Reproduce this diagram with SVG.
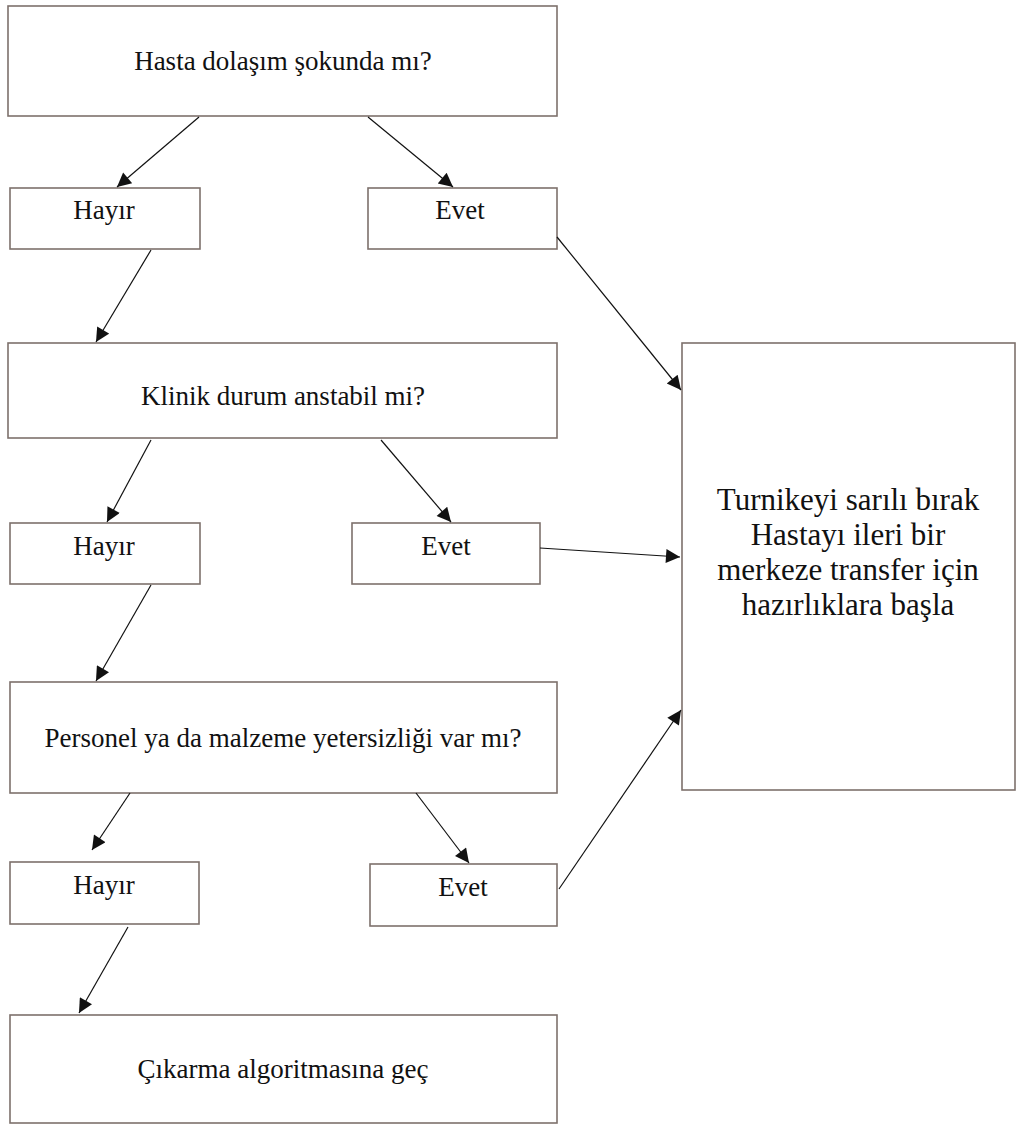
<svg xmlns="http://www.w3.org/2000/svg" width="1018" height="1125" viewBox="0 0 1018 1125">
<style>
.box{fill:#fff;stroke:#7d716c;stroke-width:1.6}
.t{font-family:"Liberation Serif","Times New Roman",serif;font-size:27px;fill:#111;text-anchor:middle}
.tb{font-family:"Liberation Serif","Times New Roman",serif;font-size:31px;fill:#111;text-anchor:middle}
.edge{stroke:#111;stroke-width:1.2;fill:none;marker-end:url(#ah)}
</style>
<defs>
<marker id="ah" viewBox="0 0 10 10" refX="10" refY="5" markerWidth="16" markerHeight="14" markerUnits="userSpaceOnUse" orient="auto">
<path d="M0,0 L10,5 L0,10 z" fill="#111"/>
</marker>
</defs>
<rect width="1018" height="1125" fill="#fff"/>
<g id="n-sok"><rect class="box" x="8" y="6" width="549" height="110"/><text class="t" x="283" y="70">Hasta dolaşım şokunda mı?</text></g>
<g id="n-hayir1"><rect class="box" x="10" y="188" width="190" height="61"/><text class="t" x="104" y="219">Hayır</text></g>
<g id="n-evet1"><rect class="box" x="368" y="188" width="189" height="61"/><text class="t" x="460" y="219">Evet</text></g>
<g id="n-klinik"><rect class="box" x="8" y="343" width="549" height="95"/><text class="t" x="283" y="405">Klinik durum anstabil mi?</text></g>
<g id="n-hayir2"><rect class="box" x="10" y="523" width="190" height="61"/><text class="t" x="104" y="555">Hayır</text></g>
<g id="n-evet2"><rect class="box" x="352" y="523" width="188" height="61"/><text class="t" x="446" y="555">Evet</text></g>
<g id="n-personel"><rect class="box" x="10" y="682" width="547" height="111"/><text class="t" x="283" y="747">Personel ya da malzeme yetersizliği var mı?</text></g>
<g id="n-hayir3"><rect class="box" x="10" y="862" width="189" height="62"/><text class="t" x="104" y="894">Hayır</text></g>
<g id="n-evet3"><rect class="box" x="370" y="864" width="187" height="62"/><text class="t" x="463" y="896">Evet</text></g>
<g id="n-cikarma"><rect class="box" x="10" y="1015" width="547" height="108"/><text class="t" x="283" y="1078">Çıkarma algoritmasına geç</text></g>
<g id="n-transfer"><rect class="box" x="682" y="343" width="333" height="447"/>
<text class="tb" x="848" y="510">Turnikeyi sarılı bırak</text>
<text class="tb" x="848" y="545">Hastayı ileri bir</text>
<text class="tb" x="848" y="580">merkeze transfer için</text>
<text class="tb" x="848" y="615">hazırlıklara başla</text>
</g>
<g id="connectors">
<line class="edge" x1="199" y1="117" x2="117" y2="187"/>
<line class="edge" x1="368" y1="117" x2="453" y2="187"/>
<line class="edge" x1="557" y1="237" x2="681" y2="390"/>
<line class="edge" x1="151" y1="250" x2="96" y2="342"/>
<line class="edge" x1="151" y1="440" x2="107" y2="522"/>
<line class="edge" x1="381" y1="440" x2="451" y2="522"/>
<line class="edge" x1="540" y1="548" x2="680" y2="557"/>
<line class="edge" x1="151" y1="585" x2="96" y2="681"/>
<line class="edge" x1="130" y1="793" x2="92" y2="850"/>
<line class="edge" x1="416" y1="793" x2="469" y2="863"/>
<line class="edge" x1="559" y1="889" x2="681" y2="710"/>
<line class="edge" x1="128" y1="927" x2="79" y2="1013"/>
</g>
</svg>
